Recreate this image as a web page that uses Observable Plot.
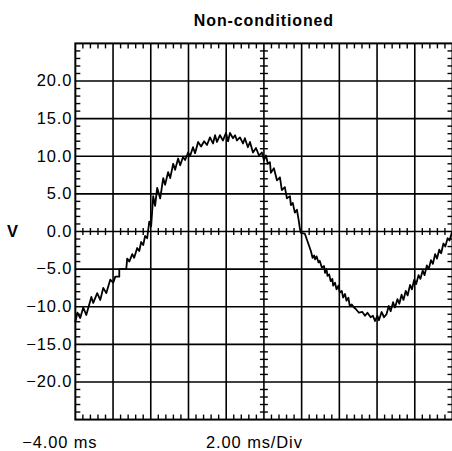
<!DOCTYPE html>
<html><head><meta charset="utf-8">
<script src="https://cdn.jsdelivr.net/npm/d3@7"></script>
<script src="https://cdn.jsdelivr.net/npm/@observablehq/plot@0.6"></script>
<style>
html,body{margin:0;padding:0;background:#fff;overflow:hidden;}
svg text{letter-spacing:0.9px;}
g[aria-label="title"] text{letter-spacing:0.7px;}
</style></head><body><div id="chart"></div>
<script>
const chartTitle = "Non-conditioned";
const yUnit = "V";
const startLabel = "\u22124.00 ms";
const scaleLabel = "2.00 ms/Div";
const xDomain = [-4, 16];
const yDomain = [-25, 25];
const xGrid = [-2, 0, 2, 4, 6, 8, 10, 12, 14];
const yTicks = [-20, -15, -10, -5, 0, 5, 10, 15, 20];
const centerX = 6;

const timeMs = [-4.00,-3.89,-3.74,-3.58,-3.42,-3.15,-3.05,-2.84,-2.68,-2.52,-2.36,-2.15,-1.99,-1.88,-1.67,-1.67,-1.30,-1.25,-1.14,-0.98,
-0.88,-0.72,-0.61,-0.51,-0.40,-0.30,-0.19,-0.08,0.02,0.13,0.23,0.34,0.50,0.66,0.76,0.92,1.03,1.19,1.29,1.45,
1.56,1.71,1.82,1.98,2.08,2.24,2.35,2.51,2.67,2.83,2.98,3.14,3.30,3.41,3.51,3.67,3.83,3.99,4.10,4.20,
4.36,4.47,4.57,4.73,4.89,4.99,5.15,5.26,5.42,5.58,5.74,5.89,6.00,6.11,6.21,6.32,6.37,6.53,6.69,6.85,
6.95,7.11,7.22,7.38,7.43,7.53,7.64,7.75,7.85,7.90,
7.96,8.17,8.31,8.49,8.58,8.66,8.71,8.79,8.89,8.96,9.07,9.19,9.24,9.32,9.37,9.46,9.54,9.63,9.67,9.77,
9.85,9.95,10.02,10.13,10.20,10.30,10.38,10.48,10.55,10.66,10.78,10.87,11.04,11.22,11.36,11.49,11.66,11.78,11.89,12.02,
12.10,12.24,12.37,12.50,12.62,12.72,12.85,12.95,13.08,13.18,13.30,13.40,13.52,13.62,13.75,13.85,13.97,14.07,14.20,14.30,
14.42,14.52,14.64,14.74,14.86,14.96,15.08,15.18,15.30,15.40,15.52,15.62,15.74,15.84,15.97];

const volts = [-12.0,-10.8,-11.5,-10.1,-11.1,-8.7,-9.5,-8.2,-9.1,-7.5,-8.2,-6.4,-6.8,-6.0,-6.0,-5.0,-5.0,-3.6,-4.0,-3.0,
-3.5,-2.2,-2.6,-1.4,-1.8,-0.6,-0.9,1.3,0.7,4.7,3.4,5.8,4.4,7.1,6.2,7.9,7.1,9.0,8.2,9.7,
8.8,9.9,9.5,10.5,10.0,11.2,10.4,11.9,11.3,12.0,11.5,12.5,11.7,12.8,11.9,12.8,12.1,13.1,12.0,13.1,
12.4,12.8,12.1,12.5,11.7,12.4,11.2,11.9,10.5,11.1,10.1,10.5,9.5,10.1,9.0,9.2,7.8,8.4,6.8,7.2,
5.5,5.9,4.4,4.7,3.5,3.8,2.5,2.9,1.4,0.5,
-0.2,-0.3,-1.3,-2.6,-3.5,-3.2,-3.7,-3.3,-4.1,-3.9,-4.8,-4.6,-5.5,-5.0,-5.9,-5.7,-6.6,-6.3,-7.2,-6.8,
-7.7,-7.2,-8.1,-7.9,-8.8,-8.3,-9.2,-8.8,-9.9,-9.7,-10.1,-10.3,-10.8,-10.7,-11.2,-10.8,-11.4,-11.2,-11.9,-11.2,
-11.8,-10.7,-11.4,-11.0,-9.9,-10.6,-9.4,-10.1,-9.0,-9.6,-8.4,-9.1,-7.9,-8.5,-7.1,-7.7,-6.4,-7.0,-5.8,-6.3,
-5.2,-5.8,-4.5,-5.0,-3.8,-4.3,-3.0,-3.6,-2.4,-2.9,-1.6,-2.0,-0.9,-1.2,-0.1];

// minor tick positions: 5 per division, excluding major grid lines
const xMinor = d3.range(0, 51).filter(k => k % 5).map(k => xDomain[0] + k * 0.4);
const yMinor = d3.range(-25, 26).filter(v => v % 5);

const seg = (x1, y1, x2, y2) => ({draw(ctx) { ctx.moveTo(x1, y1); ctx.lineTo(x2, y2); }});
const fmt = d => (d < 0 ? "\u2212" : "") + Math.abs(d).toFixed(1);
const tickStyle = {stroke: "black", fill: "none", strokeWidth: 1.4};

const chart = Plot.plot({
  width: 453,
  height: 451,
  marginLeft: 75,
  marginRight: 0,
  marginTop: 43,
  marginBottom: 31,
  style: {fontFamily: "'Liberation Sans', Arial, sans-serif", fontSize: "16.5px", background: "white", color: "black"},
  x: {domain: xDomain, axis: null},
  y: {domain: yDomain, axis: null},
  marks: [
    Plot.ruleX(xGrid, {stroke: "black", strokeWidth: 1.6}),
    Plot.ruleY(yTicks, {stroke: "black", strokeWidth: 1.6}),
    Plot.dot(xMinor, {x: d => d, y: yDomain[1], symbol: seg(0, 0, 0, 5), ...tickStyle}),
    Plot.dot(xMinor, {x: d => d, y: yDomain[0], symbol: seg(0, 0, 0, -5), ...tickStyle}),
    Plot.dot(yMinor, {y: d => d, x: xDomain[0], symbol: seg(0, 0, 5, 0), ...tickStyle}),
    Plot.dot(yMinor, {y: d => d, x: xDomain[1], symbol: seg(-5, 0, 0, 0), ...tickStyle}),
    Plot.dot(xMinor, {x: d => d, y: 0, symbol: seg(0, -3.5, 0, 3.5), ...tickStyle}),
    Plot.dot(yMinor, {y: d => d, x: centerX, symbol: seg(-4, 0, 4, 0), ...tickStyle}),
    Plot.frame({stroke: "black", strokeWidth: 2}),
    Plot.line(timeMs, {x: timeMs, y: volts, stroke: "black", strokeWidth: 1.8}),
    Plot.axisY(yTicks, {tickSize: 0, tickPadding: 3, tickFormat: fmt, fontSize: 16.5, label: null}),
    Plot.text([chartTitle], {text: d => d, frameAnchor: "top", lineAnchor: "middle", dy: -22.5, fontWeight: "bold", fontSize: 16, ariaLabel: "title"}),
    Plot.text([yUnit], {text: d => d, frameAnchor: "left", textAnchor: "middle", lineAnchor: "middle", dx: -62.5, fontWeight: "bold", fontSize: 16.5}),
    Plot.text([startLabel], {text: d => d, frameAnchor: "bottom-left", textAnchor: "start", lineAnchor: "middle", dx: -53.3, dy: 23.7, fontSize: 16.5}),
    Plot.text([scaleLabel], {text: d => d, frameAnchor: "bottom-left", textAnchor: "start", lineAnchor: "middle", dx: 131, dy: 23.7, fontSize: 16.5})
  ]
});
document.getElementById("chart").appendChild(chart);
</script>
</body></html>
